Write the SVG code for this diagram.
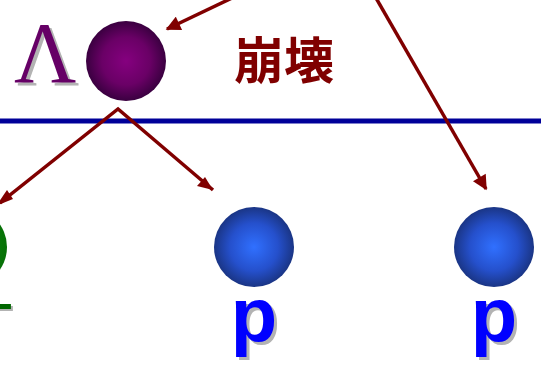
<svg xmlns="http://www.w3.org/2000/svg" width="541" height="366" viewBox="0 0 541 366">
<style>
.arr{stroke:#800000;stroke-width:3.5;fill:none}
.lbl{font-family:"Liberation Sans",Arial,sans-serif;font-weight:bold;font-size:76px}
.sh{fill:#b3b3b3}
</style>
<defs>
<radialGradient id="gL" cx="0.5" cy="0.5" r="0.5">
<stop offset="0" stop-color="#85007f"/>
<stop offset="0.6" stop-color="#6a0066"/>
<stop offset="1" stop-color="#3a0040"/>
</radialGradient>
<radialGradient id="gB" cx="0.5" cy="0.5" r="0.5">
<stop offset="0" stop-color="#3070ff"/>
<stop offset="0.6" stop-color="#2550cc"/>
<stop offset="1" stop-color="#1a3585"/>
</radialGradient>
<radialGradient id="gG" cx="0.5" cy="0.5" r="0.5">
<stop offset="0" stop-color="#10a010"/>
<stop offset="0.6" stop-color="#0a800a"/>
<stop offset="1" stop-color="#067006"/>
</radialGradient>
<clipPath id="piClip">
<rect x="-200" y="0" width="230" height="309"/>
</clipPath>
<clipPath id="piShClip">
<rect x="-200" y="0" width="230" height="311"/>
</clipPath>
<marker id="ah" viewBox="0 0 10 10" refX="9" refY="5" markerWidth="4.6" markerHeight="4.2" orient="auto" markerUnits="strokeWidth">
<path d="M0,0 L10,5 L0,10 z" fill="#800000"/>
</marker>
</defs>
<line x1="0" y1="121" x2="541" y2="121" stroke="#000099" stroke-width="5"/>
<g id="lambda">
<text x="17" y="85" font-family="'Liberation Serif','Times New Roman',serif" font-size="86" class="sh">Λ</text>
<text x="14" y="82" font-family="'Liberation Serif','Times New Roman',serif" font-size="86" fill="#660066">Λ</text>
<circle cx="126" cy="61" r="40" fill="url(#gL)"/>
</g>
<g id="decay-label">
<text x="284" y="79" text-anchor="middle" font-family="'Noto Sans CJK JP','Noto Sans CJK SC',sans-serif" font-weight="bold" font-size="50" fill="#800000">崩壊</text>
</g>
<g id="pion">
<circle cx="-33" cy="247" r="40" fill="url(#gG)"/>
<text x="15" y="346" text-anchor="end" class="lbl sh" clip-path="url(#piShClip)">π</text>
<text x="13" y="344" text-anchor="end" class="lbl" fill="#006600" clip-path="url(#piClip)">π</text>
</g>
<g id="proton1">
<circle cx="254" cy="247" r="40" fill="url(#gB)"/>
<text x="257" y="344" text-anchor="middle" class="lbl sh">p</text>
<text x="254" y="341" text-anchor="middle" class="lbl" fill="#0000ff">p</text>
</g>
<g id="proton2">
<circle cx="494" cy="247" r="40" fill="url(#gB)"/>
<text x="497" y="344" text-anchor="middle" class="lbl sh">p</text>
<text x="494" y="341" text-anchor="middle" class="lbl" fill="#0000ff">p</text>
</g>
<g id="connectors">
<line class="arr" x1="232" y1="-2" x2="167" y2="29" marker-end="url(#ah)"/>
<line class="arr" x1="376" y1="-2" x2="486" y2="189" marker-end="url(#ah)"/>
<polyline class="arr" points="0,203 118,109 213,190" stroke-linejoin="miter"/>
<path d="M-4,206 L7,190 L13,199 z" fill="#800000"/>
<path d="M213,190 L197,186 L205,177 z" fill="#800000"/>
</g>
</svg>
